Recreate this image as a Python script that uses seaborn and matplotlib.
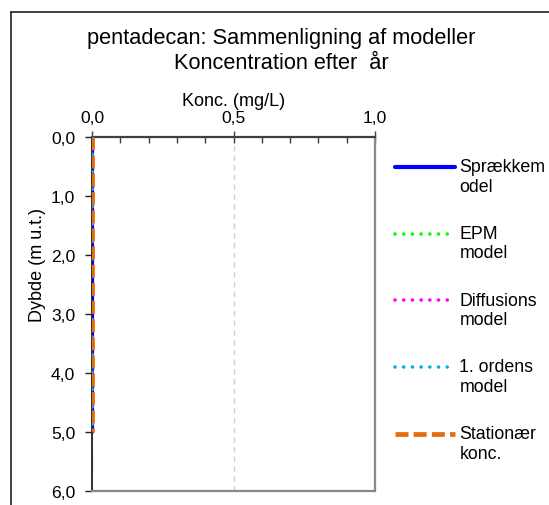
import numpy as np
import pandas as pd
import matplotlib
matplotlib.use("Agg")
import matplotlib.pyplot as plt
from matplotlib.lines import Line2D
from matplotlib.legend_handler import HandlerLine2D
import seaborn as sns

# Depth profile (m below surface) and modelled concentrations (mg/L)
DEPTHS = [0.0, 0.5, 1.0, 1.5, 2.0, 2.5, 3.0, 3.5, 4.0, 4.5, 5.0]
CONC_SPRAEKKE = [0.0, 0.0, 0.0, 0.0, 0.0, 0.0, 0.0, 0.0, 0.0, 0.0, 0.0]
CONC_EPM = [0.0, 0.0, 0.0, 0.0, 0.0, 0.0, 0.0, 0.0, 0.0, 0.0, 0.0]
CONC_DIFFUSION = [0.0, 0.0, 0.0, 0.0, 0.0, 0.0, 0.0, 0.0, 0.0, 0.0, 0.0]
CONC_FIRST_ORDER = [0.0, 0.0, 0.0, 0.0, 0.0, 0.0, 0.0, 0.0, 0.0, 0.0, 0.0]
CONC_STATIONARY = [0.0, 0.0, 0.0, 0.0, 0.0, 0.0, 0.0, 0.0, 0.0, 0.0, 0.0]

MODEL_LABELS = ["Sprækkem\nodel", "EPM\nmodel", "Diffusions\nmodel",
                "1. ordens\nmodel", "Stationær\nkonc."]
X_TICKS = [0.0, 0.5, 1.0]
X_TICK_LABELS = ["0,0", "0,5", "1,0"]
Y_TICKS = [0, 1, 2, 3, 4, 5, 6]
Y_TICK_LABELS = ["0,0", "1,0", "2,0", "3,0", "4,0", "5,0", "6,0"]

sns.set_theme(style="white")
plt.rcParams["font.family"] = ["Liberation Sans", "DejaVu Sans"]
plt.rcParams["text.color"] = "black"
plt.rcParams["axes.labelcolor"] = "black"

W, H = 549, 506
fig = plt.figure(figsize=(W / 100, H / 100), dpi=100)
fig.patch.set_facecolor("white")

# outer chart border (top and left edges visible)
fig.add_artist(Line2D([11 / W, 11 / W], [1 - 13 / H, -0.1], transform=fig.transFigure,
                      color="#202020", lw=1.2))
fig.add_artist(Line2D([11 / W, 1.1], [1 - 13 / H, 1 - 13 / H], transform=fig.transFigure,
                      color="#202020", lw=1.2))

left, right, top, bottom = 92, 375, 137.5, 492
ax = fig.add_axes([left / W, (H - bottom) / H, (right - left) / W, (bottom - top) / H])

frames = []
series = [CONC_SPRAEKKE, CONC_EPM, CONC_DIFFUSION, CONC_FIRST_ORDER, CONC_STATIONARY]
for name, vals in zip(MODEL_LABELS, series):
    frames.append(pd.DataFrame({"Konc": vals, "Dybde": DEPTHS, "Model": name}))
df = pd.concat(frames, ignore_index=True)

styles = {
    MODEL_LABELS[0]: dict(color="#0000FF", lw=3.0, ls="-", cap="round"),
    MODEL_LABELS[1]: dict(color="#00FF00", lw=2.6, ls=(0, (0.01, 2.4)), cap="round"),
    MODEL_LABELS[2]: dict(color="#FF00FF", lw=2.6, ls=(0, (0.01, 2.4)), cap="round"),
    MODEL_LABELS[3]: dict(color="#00B0F0", lw=2.6, ls=(0, (0.01, 2.4)), cap="round"),
    MODEL_LABELS[4]: dict(color="#E46C0A", lw=3.4, ls=(0, (2.75, 1.1)), cap="butt"),
}

for name in MODEL_LABELS:
    st = styles[name]
    sns.lineplot(data=df[df["Model"] == name], x="Konc", y="Dybde", orient="y",
                 sort=False, estimator=None, ax=ax, color=st["color"],
                 linewidth=st["lw"], linestyle=st["ls"], label=name,
                 dash_capstyle=st["cap"], zorder=3, legend=False)

ax.set_xlim(0, 1)
ax.set_ylim(6, 0)
ax.xaxis.tick_top()
ax.xaxis.set_label_position("top")
ax.set_xticks(X_TICKS)
ax.set_xticklabels(X_TICK_LABELS, fontsize=12.6)
ax.set_xticks(np.arange(0.1, 1.0, 0.1), minor=True)
ax.set_yticks(Y_TICKS)
ax.set_yticklabels(Y_TICK_LABELS, fontsize=12.6)

ax.tick_params(axis="x", which="major", direction="inout", length=8, width=1,
               color="#404040", labelcolor="black", pad=4, top=True, bottom=False)
ax.tick_params(axis="x", which="minor", direction="in", length=4, width=1,
               color="#404040", top=True, bottom=False)
ax.tick_params(axis="y", which="major", direction="out", length=5, width=1,
               color="#202020", labelcolor="black", pad=7, left=True)

ax.set_xlabel("Konc. (mg/L)", fontsize=13, labelpad=4)
ax.set_ylabel("Dybde (m u.t.)", fontsize=13)
ax.yaxis.set_label_coords(-0.164, 0.641)

ax.grid(axis="x", which="major", color="#D0D0D0", linestyle=(0, (4, 3)), linewidth=1)
ax.grid(axis="y", visible=False)
ax.set_axisbelow(True)

for side in ["top", "left", "right", "bottom"]:
    ax.spines[side].set_visible(True)
ax.spines["top"].set_color("#404040")
ax.spines["top"].set_linewidth(1.6)
ax.spines["left"].set_color("#202020")
ax.spines["left"].set_linewidth(1.3)
ax.spines["right"].set_color("#888888")
ax.spines["right"].set_linewidth(1.6)
ax.spines["bottom"].set_color("#888888")
ax.spines["bottom"].set_linewidth(1.6)

fig.text(281 / W, 1 - 44 / H, "pentadecan: Sammenligning af modeller",
         ha="center", va="baseline", fontsize=15.7, color="black")
fig.text(281 / W, 1 - 69 / H, "Koncentration efter  år",
         ha="center", va="baseline", fontsize=15.7, color="black")


class FirstLineHandler(HandlerLine2D):
    """Place the legend line next to the first row of a two-line label."""

    def create_artists(self, legend, orig_handle, xdescent, ydescent, width, height,
                       fontsize, trans):
        artists = super().create_artists(legend, orig_handle, xdescent, ydescent,
                                         width, height, fontsize, trans)
        for a in artists:
            a.set_ydata(np.asarray(a.get_ydata()) + 0.55 * fontsize)
        return artists


handles = ax.get_lines()
handles = [h for h in handles if h.get_label() in MODEL_LABELS]
leg = ax.legend(handles=handles, labels=MODEL_LABELS, loc="upper left",
                bbox_to_anchor=(395 / W, 1 - 159 / H), bbox_transform=fig.transFigure,
                frameon=False, fontsize=12.8, handlelength=3.4, handletextpad=0.22,
                labelspacing=1.70, borderpad=0, borderaxespad=0,
                handler_map={Line2D: FirstLineHandler()})
for t in leg.get_texts():
    t.set_color("black")

fig.savefig("out.png", dpi=100)
